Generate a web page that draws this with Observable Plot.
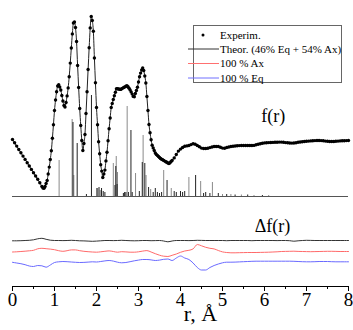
<!DOCTYPE html>
<html>
<head>
<meta charset="utf-8">
<script src="https://cdn.jsdelivr.net/npm/d3@7"></script>
<script src="https://cdn.jsdelivr.net/npm/@observablehq/plot@0.6"></script>
<style>
  html, body { margin: 0; padding: 0; background: white; }
  #wrap { position: relative; width: 353px; height: 330px; overflow: hidden; }
  #legend { position: absolute; left: 0; top: 0; }
  #wrap svg text { font-family: "Liberation Serif", "Times New Roman", serif; }
</style>
</head>
<body>
<div id="wrap"></div>
<script>
// ---- Experimental f(r): three sampling blocks ----
const fLeftStart = 0, fLeftStep = 0.05;
const fLeft = [57,53.7,50.4,47,43.7,40.4,37.1,33.8,30.5,27.1,23.8,20.5,17.2,13.7];
const fMidStart = 0.7, fMidStep = 0.025;
const fMid = [
  10,8.5,8.3,10,13,16,22.5,29.4,37,45.8,
  58.2,71.8,86,96.5,104.8,110.5,111.8,109.5,106.5,101,
  95.5,91,89.5,94,100.6,108.6,119.8,133.4,148.5,162.6,
  173.5,174.5,169,155,131,109,88,71,56,46,
  53,62,83,104.7,127,148.7,168.6,180,176,165.2,
  138.5,113.7,89,71.7,54.8,42.8,31.8,25.4,19,22.5,
  26.4,35.6,44.3,55.8,67.8,78.5,89,93,97,100.8,
  104.3,107.8,107.7,107.5,107.2,107.1,107.7,108.4,109,109.6,
  110.2,110.8,109.8,108.2,106.6,104.6,102.4,100.1,99.7,103,
  106,109.2,114.5,119.8,123.4,126.5,128.5,126,120.5,113.5,
  100,86,72,63.7,56.8,51.3,48.6,46,43.5,42.1,
  41.1,40,39,38,37.3,36.7,36.1,35.4,34.8,34.2,
  33.5,33,33.8,35,36];
const fRightStart = 3.85, fRightStep = 0.05;
const fRight = [
  38.6,42,45.4,47.4,49,50.2,50.6,51,51.9,52.7,
  52.2,51,49.7,48.4,48,48,48.2,48.9,49.5,50,
  50,50,49.2,48.4,48.3,49,49.5,50,50.2,50.5,
  50.7,50.9,51,51,51,51,51,51,51.1,51.7,
  52.2,52.7,53.2,53.6,53.8,53.9,54,54.1,54.2,54.3,
  54.4,54.4,54.2,53.9,53.7,53.5,53.4,53.5,53.8,54.2,
  54.5,54.8,55,55.2,55.4,55.6,55.8,55.9,56,56,
  55.9,55.7,55.4,55.2,55,55,55,55.2,55.4,55.6,
  55.7,55.8,55.9,56];

// ---- Theoretical distance sticks [r, height] ----
const sticksLight = [[1.11,36],[1.42,77],[1.46,21],[2.03,8],[2.09,6],[2.40,33],[2.47,40],[2.50,24],
  [2.73,90],[2.93,23],[3.11,61],[3.18,21],[3.29,7],[3.60,26],[3.78,8],[4.20,19],[4.48,15],[4.76,14],
  [5.0,2],[5.2,2],[5.45,1.5],[5.75,1],[6.1,1]];
const sticksDark = [[1.44,74],[1.54,53],[1.76,2],[1.88,101],[2.01,8],[2.06,9],[2.12,8],[2.16,5],[2.2,4],
  [2.44,11],[2.46,30],[2.49,12],[2.64,3],[2.67,4],[2.7,4],[2.76,4],[2.82,66],[2.85,4],[3.02,5],
  [3.09,34],[3.15,33],[3.24,9],[3.35,4],[3.40,8],[3.45,4],[3.5,3],[3.55,4],[3.68,16],[3.85,5],
  [3.9,4],[4.0,5],[4.05,4],[4.1,5],[4.36,21],[4.55,3],[4.6,4],[4.7,3],[4.9,3],[5.1,2],[5.3,1.5],
  [5.6,1.5],[5.95,1]];

// ---- Difference curves Δf(r), r = 0..8 step 0.1 ----
const dStart = 0, dStep = 0.1;
const dTheor = [
  -44.3,-44.3,-44.2,-44,-43.8,-43.3,-42.3,-41.8,-42.8,-43.7,
  -44,-44,-44.1,-44,-43.8,-44,-44.3,-44.4,-44.6,-44.8,
  -44.6,-44.3,-44,-44,-44.1,-44,-43.8,-44,-44.2,-44.3,
  -44.2,-44,-44,-44.2,-44.1,-44,-44.5,-45.3,-44.5,-44,
  -44,-44,-44.1,-44,-43.8,-43.9,-44,-44,-44,-44,
  -44,-44.2,-44,-44,-44,-44,-44,-44.2,-44,-44,
  -44,-44,-44,-44.1,-44,-44,-44.2,-44.7,-44.3,-44,
  -43.8,-43.9,-44,-44,-44,-44,-44,-44,-44,-44,
  -44];
const dAx = [
  -55.5,-55.3,-55,-54.7,-54.3,-53.8,-52.3,-51.8,-52.2,-52.6,
  -53.2,-54.2,-54.8,-54.2,-53.4,-53.4,-54.2,-54.8,-55.2,-55.5,
  -55.7,-55.3,-54.8,-54.4,-55,-55.7,-55.2,-55.4,-55.7,-55.7,
  -55.3,-54.6,-54.1,-55.5,-57.2,-58.7,-59.7,-60,-58.8,-57.5,
  -55.8,-54.5,-53.8,-52.4,-48,-49.3,-50.8,-51.8,-52.4,-54,
  -55.4,-56,-56.3,-56.3,-56.2,-56.1,-56,-56,-56,-55.9,
  -55.8,-55.7,-55.5,-55.3,-55,-54.9,-54.8,-54.7,-54.9,-55,
  -55.1,-55.2,-55.1,-55,-54.9,-54.8,-54.8,-54.9,-55,-55,
  -55];
const dEq = [
  -65.8,-66.5,-67.2,-68.2,-69.5,-70,-69,-69.3,-70.7,-68.5,
  -66,-65.3,-65,-65.2,-65.5,-65.8,-66,-65.9,-65.6,-65.3,
  -65.5,-65,-64.4,-64,-64.6,-65.7,-66.3,-66,-65.2,-64.3,
  -63.6,-63,-63,-63.4,-64,-63.6,-62.8,-62.5,-64,-61.5,
  -59.5,-61.5,-63,-66.5,-71,-73.5,-73.5,-71,-69,-67.5,
  -66.3,-65.7,-65.7,-65.6,-65.4,-65.2,-65,-64.8,-64.7,-64.7,
  -64.7,-64.7,-64.7,-64.7,-64.7,-64.7,-64.7,-64.8,-65,-65.2,
  -65.3,-65.3,-65.2,-65,-65,-65,-65.2,-65.3,-65.3,-65.3,
  -65.3];

const majorTicks = [0,1,2,3,4,5,6,7,8];
const minorTicks = [0.5,1.5,2.5,3.5,4.5,5.5,6.5,7.5];
const xLabel = "r, Å";
const curveLabels = [{x: 6.21, y: 80, text: "f(r)"}, {x: 6.19, y: -30, text: "Δf(r)"}];
const legendItems = ["Experim.", "Theor. (46% Eq + 54% Ax)", "100 % Ax", "100 % Eq"];

// build tables
const block = (start, step, arr) => arr.map((v, i) => ({r: +(start + i*step).toFixed(3), f: v}));
const exp = [...block(fLeftStart, fLeftStep, fLeft), ...block(fMidStart, fMidStep, fMid), ...block(fRightStart, fRightStep, fRight)];
const dT = block(dStart, dStep, dTheor), dA = block(dStart, dStep, dAx), dE = block(dStart, dStep, dEq);

const serif = "Liberation Serif, Times New Roman, serif";
const plot = Plot.plot({
  width: 353, height: 330,
  marginLeft: 12, marginRight: 5, marginTop: 0, marginBottom: 44,
  x: {domain: [0, 8]},
  y: {domain: [-90, 196], axis: null},
  style: {fontFamily: serif, background: "white", color: "black"},
  marks: [
    Plot.ruleY([0], {stroke: "#555", strokeWidth: 1}),
    Plot.ruleX(sticksLight, {x: d => d[0], y1: 0, y2: d => d[1], stroke: "#8a8a8a", strokeWidth: 1}),
    Plot.ruleX(sticksDark, {x: d => d[0], y1: 0, y2: d => d[1], stroke: "#222", strokeWidth: 1}),
    Plot.line(dT, {x: "r", y: "f", stroke: "#333", strokeWidth: 1, curve: "monotone-x"}),
    Plot.line(dA, {x: "r", y: "f", stroke: "#ff6a6a", strokeWidth: 1, curve: "monotone-x"}),
    Plot.line(dE, {x: "r", y: "f", stroke: "#6a6aff", strokeWidth: 1, curve: "monotone-x"}),
    Plot.line(exp, {x: "r", y: "f", stroke: "#222", strokeWidth: 1, curve: "monotone-x"}),
    Plot.dot(exp, {x: "r", y: "f", r: 1.7, fill: "black", stroke: "none"}),
    Plot.text(curveLabels, {x: "x", y: "y", text: "text", fontSize: 18, fontFamily: serif, fill: "black"}),
    Plot.ruleY([-90], {stroke: "black", strokeWidth: 1}),
    Plot.axisX({ticks: majorTicks, tickSize: 5, tickPadding: 1, fontSize: 19, fontFamily: serif, tickFormat: d => d, label: null, stroke: "black"}),
    Plot.axisX({ticks: minorTicks, tickSize: 3, tickFormat: () => "", label: null}),
    Plot.text([xLabel], {frameAnchor: "bottom", dx: 20, dy: 34, fontSize: 22, fontFamily: serif, fill: "black"})
  ]
});
document.getElementById("wrap").appendChild(plot);

// legend overlay
const ns = "http://www.w3.org/2000/svg";
const lg = d3.select("#wrap").append("svg").attr("id", "legend").attr("width", 353).attr("height", 330)
  .attr("xmlns", ns).style("font-family", serif);
lg.append("rect").attr("x", 193.5).attr("y", 25.5).attr("width", 148).attr("height", 57)
  .attr("fill", "white").attr("stroke", "#666").attr("stroke-width", 1);
const rowY = [35, 49, 63.5, 78];
const legendColors = [null, "#333", "#ff7070", "#7070ff"];
legendItems.forEach((t, i) => {
  if (i === 0) lg.append("circle").attr("cx", 203).attr("cy", rowY[i]).attr("r", 1.5).attr("fill", "black");
  else lg.append("line").attr("x1", 188).attr("x2", 219).attr("y1", rowY[i]).attr("y2", rowY[i])
    .attr("stroke", legendColors[i]).attr("stroke-width", 1);
  lg.append("text").attr("x", 220).attr("y", rowY[i]).attr("dy", "0.35em").attr("font-size", 11).text(t);
});
</script>
</body>
</html>
